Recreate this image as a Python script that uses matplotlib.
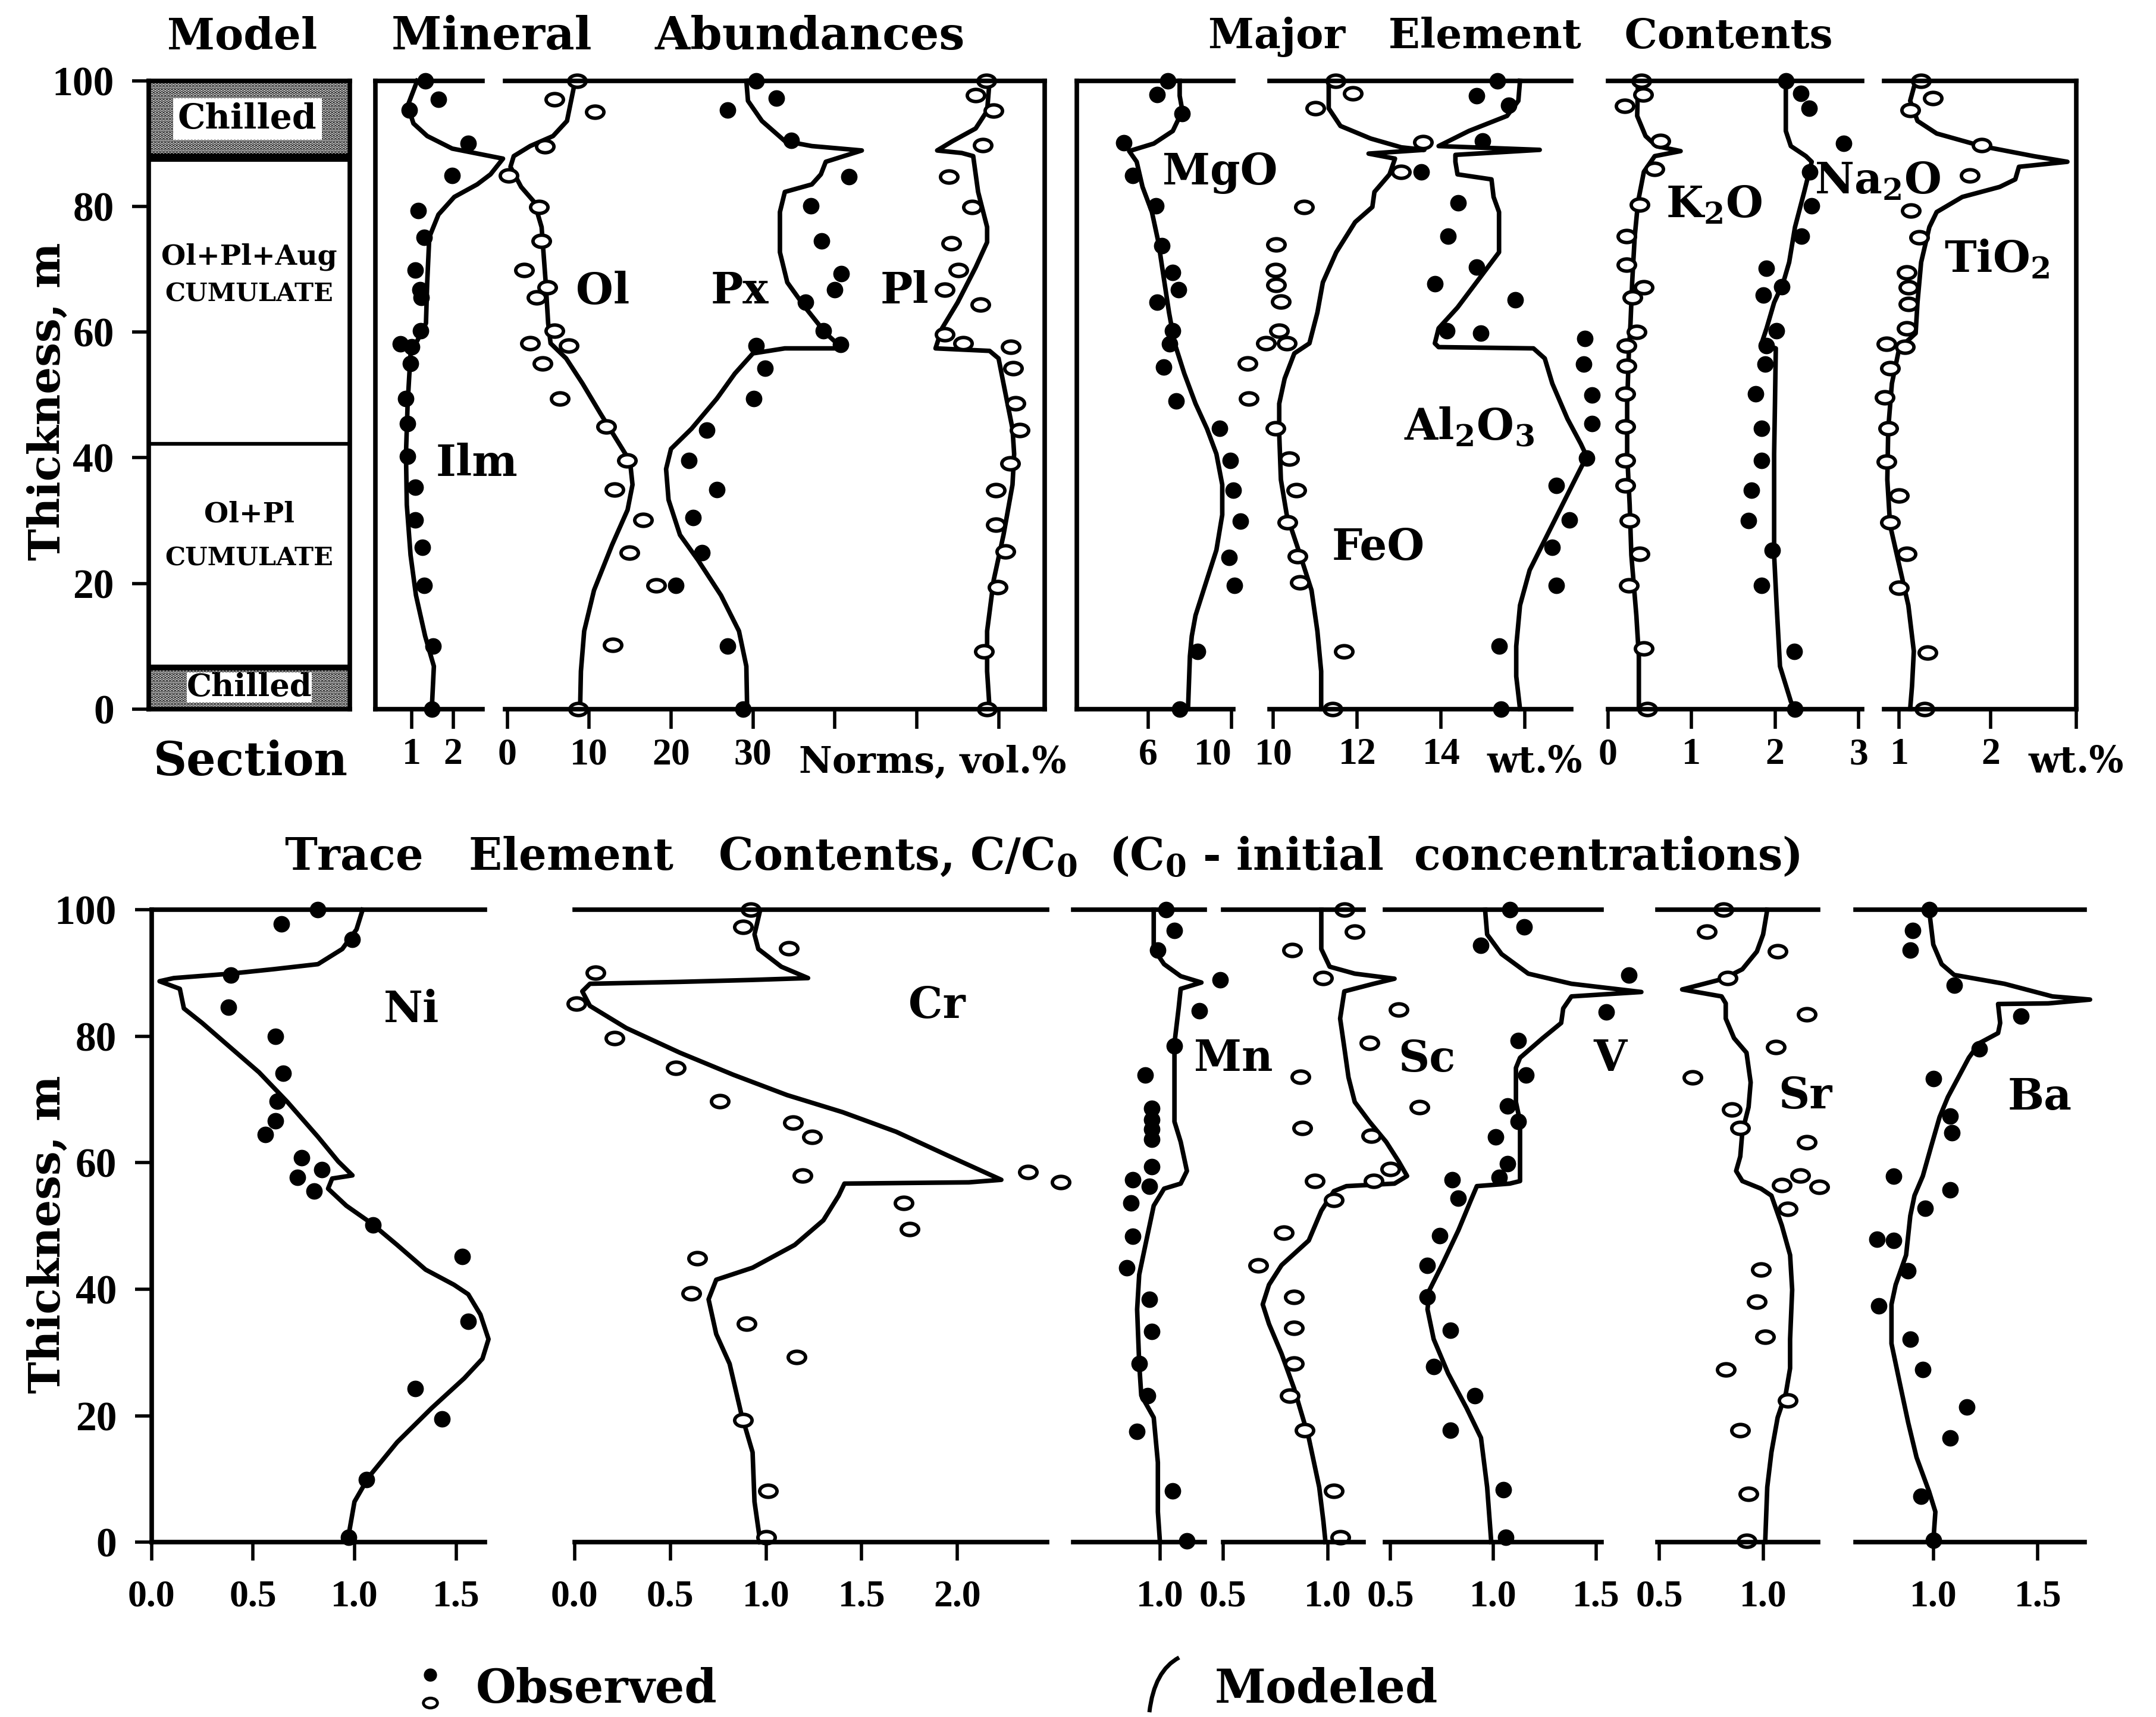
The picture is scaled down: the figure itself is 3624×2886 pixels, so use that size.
import matplotlib
matplotlib.use("Agg")
from matplotlib import pyplot as plt
from matplotlib.path import Path
from matplotlib.patches import Rectangle, PathPatch
from matplotlib.transforms import Affine2D

W, H = 3624, 2886

# ---------------- top row: mineral norms, vol.% (depth in m) ----------------
ilm_obs_d = [100, 97, 95.3, 90, 84.9, 79.3, 75.1, 69.9, 66.7, 65.5, 60.2, 58.1, 57.6, 55, 49.4, 45.4, 40.2, 35.3, 30.1, 25.7, 19.7, 10, 0]
ilm_obs_v = [1.33, 1.65, 0.95, 2.36, 1.98, 1.16, 1.30, 1.09, 1.20, 1.24, 1.22, 0.73, 1.0, 0.98, 0.87, 0.91, 0.91, 1.09, 1.09, 1.27, 1.30, 1.52, 1.49]
ilm_mod_d = [100, 96, 93.2, 91.2, 89.2, 87.6, 85.1, 83.5, 81.5, 78.7, 75.1, 67.9, 61.4, 58.2, 56.6, 48.6, 40.6, 32.5, 24.5, 18.1, 11.6, 6.8, 0]
ilm_mod_v = [1.14, 0.91, 1.05, 1.38, 1.98, 3.2, 2.9, 2.58, 2.03, 1.65, 1.43, 1.38, 1.35, 1.11, 0.98, 0.91, 0.87, 0.89, 0.98, 1.11, 1.33, 1.54, 1.49]

ol_obs_d = [100, 97, 95, 89.6, 84.9, 79.9, 74.5, 69.9, 67.1, 65.5, 60.2, 58.2, 57.8, 55, 49.4, 45, 39.6, 34.9, 30.1, 24.9, 19.7, 10.2, 0]
ol_obs_v = [8.5, 5.8, 10.7, 4.6, 0.2, 3.9, 4.2, 2.1, 4.9, 3.6, 5.8, 2.8, 7.5, 4.3, 6.4, 12.1, 14.6, 13.1, 16.6, 14.9, 18.2, 12.9, 8.7]
ol_mod_d = [100, 96.8, 93.6, 91.2, 89.6, 88, 86.3, 83.1, 80.7, 76.7, 67.9, 61.4, 58.2, 55.8, 51.8, 47, 43, 39.4, 35.7, 31.7, 26.1, 18.9, 12.4, 6, 0]
ol_mod_v = [8.3, 7.8, 7.3, 5.6, 2.8, 0.8, 0.4, 1.7, 3.3, 4.2, 4.7, 5.0, 5.3, 7.2, 9.2, 11.4, 13.3, 15.0, 15.3, 14.7, 12.8, 10.6, 9.4, 9.0, 8.9]

px_obs_d = [100, 97.2, 95.3, 90.5, 84.7, 80.1, 74.5, 69.3, 66.7, 64.7, 60.2, 58, 57.8, 54.2, 49.4, 44.4, 39.6, 34.9, 30.5, 24.9, 19.7, 10, 0]
px_obs_v = [30.4, 32.9, 26.9, 34.7, 41.7, 37.1, 38.4, 40.8, 40.0, 36.4, 38.6, 40.7, 30.4, 31.5, 30.1, 24.4, 22.2, 25.6, 22.7, 23.8, 20.6, 26.9, 28.8]
px_mod_d = [100, 96.8, 93.6, 90.4, 89.6, 88.9, 87.1, 85.1, 83.5, 82.3, 79.1, 72.7, 67.9, 63.9, 59.8, 57.8, 57.4, 57.4, 56.6, 53.4, 49.4, 44.6, 41.4, 38.2, 33.3, 27.7, 23.7, 18.1, 12.4, 6.8, 0]
px_mod_v = [29.2, 29.4, 31.1, 33.9, 37.2, 43.3, 38.9, 38.3, 37.2, 33.9, 33.3, 33.3, 34.2, 36.4, 38.9, 40.6, 40.0, 33.9, 30.0, 27.8, 25.6, 22.5, 20.0, 19.4, 19.7, 21.1, 23.3, 26.1, 28.3, 29.2, 29.3]

pl_obs_d = [100, 97.7, 95.2, 89.7, 84.7, 79.9, 74.1, 69.9, 66.7, 64.4, 59.6, 58.2, 57.6, 54.2, 48.6, 44.4, 39.1, 34.8, 29.3, 25.1, 19.4, 9.2, 0]
pl_obs_v = [58.5, 57.2, 59.4, 58.1, 53.9, 56.8, 54.2, 55.1, 53.4, 57.8, 53.4, 55.7, 61.5, 61.8, 62.1, 62.6, 61.4, 59.7, 59.7, 60.8, 59.9, 58.2, 58.6]
pl_mod_d = [100, 95.2, 92.4, 90.4, 88.9, 88.5, 88, 82.3, 76.7, 74.3, 70.3, 64.7, 60.6, 57.4, 57, 55.8, 51.8, 44.6, 40.6, 35.7, 27.7, 20.5, 12.4, 6, 0]
pl_mod_v = [58.9, 58.6, 57.2, 54.4, 52.5, 55.5, 56.9, 57.5, 58.6, 58.6, 57.2, 55.0, 53.1, 52.3, 58.9, 60.0, 60.6, 61.7, 61.9, 61.7, 60.6, 59.4, 58.6, 58.6, 58.9]

# ---------------- top row: major elements, wt.% ----------------
mgo_obs_d = [100, 97.8, 94.8, 90.1, 84.9, 80.1, 73.7, 69.5, 66.7, 64.7, 60.2, 58.1, 54.4, 49, 44.7, 39.6, 34.8, 29.9, 24.1, 19.7, 9.2, 0]
mgo_obs_v = [6.95, 6.42, 7.64, 4.82, 5.27, 6.36, 6.67, 7.18, 7.45, 6.42, 7.18, 7.04, 6.73, 7.33, 9.42, 9.95, 10.09, 10.42, 9.87, 10.13, 8.36, 7.51]
mgo_mod_d = [100, 97.6, 95.2, 92, 90, 88.8, 87.1, 83.1, 79.1, 74.3, 67.9, 63.1, 58.2, 53.4, 48.6, 44.6, 40.6, 35.7, 30.9, 25.3, 19.7, 14.9, 11.6, 8.4, 0]
mgo_mod_v = [7.51, 7.51, 7.64, 7.18, 6.27, 5.09, 5.45, 5.73, 6.18, 6.49, 6.78, 7.0, 7.27, 7.73, 8.27, 8.82, 9.27, 9.55, 9.55, 9.27, 8.73, 8.27, 8.09, 8.0, 7.91]

feo_obs_d = [100, 98, 95.6, 90.2, 85.5, 79.9, 73.9, 69.9, 67.5, 64.8, 60.2, 58.2, 58.2, 55, 49.4, 44.7, 39.8, 34.8, 29.7, 24.3, 20.1, 9.2, 0]
feo_obs_v = [11.48, 11.9, 11.0, 13.57, 13.05, 10.73, 10.06, 10.05, 10.06, 10.18, 10.14, 9.82, 10.32, 9.38, 9.41, 10.05, 10.38, 10.55, 10.34, 10.57, 10.64, 11.68, 11.41]
feo_mod_d = [100, 95.6, 92.8, 90.8, 89.4, 89.0, 88.4, 87.6, 85.1, 82.3, 79.9, 77.5, 72.7, 67.9, 63.1, 58.2, 56.6, 52.6, 48.6, 43.8, 36.5, 30.9, 24.5, 18.9, 12.4, 6, 0]
feo_mod_v = [11.32, 11.32, 11.6, 12.32, 13.05, 13.6, 12.27, 12.9, 12.77, 12.41, 12.36, 11.95, 11.5, 11.18, 11.05, 10.86, 10.5, 10.27, 10.14, 10.14, 10.18, 10.32, 10.64, 10.91, 11.05, 11.14, 11.14]

al_obs_d = [100, 97.6, 96.1, 90.4, 85.5, 80.6, 75.3, 70.3, 67.7, 65.1, 60.2, 59.8, 59, 54.9, 50, 45.4, 39.9, 35.6, 30.1, 25.7, 19.7, 10, 0]
al_obs_v = [15.34, 14.84, 15.61, 14.98, 13.53, 14.41, 14.16, 14.84, 13.85, 15.77, 14.14, 14.95, 17.42, 17.4, 17.6, 17.6, 17.47, 16.74, 17.06, 16.65, 16.74, 15.38, 15.43]
al_mod_d = [100, 96.8, 94.4, 92, 89.6, 89.0, 88.2, 87.1, 85.1, 84.3, 81.5, 79.1, 72.7, 68.7, 63.9, 60.6, 58.2, 57.6, 57.4, 55.8, 51.8, 46.2, 42.2, 40.2, 36.5, 31.7, 26.9, 22.1, 16.5, 10, 5.2, 0]
al_mod_v = [15.88, 15.84, 15.57, 14.66, 13.94, 16.35, 14.34, 14.34, 14.39, 15.2, 15.25, 15.38, 15.38, 14.93, 14.39, 13.94, 13.85, 13.94, 16.2, 16.47, 16.65, 17.01, 17.33, 17.47, 17.19, 16.83, 16.47, 16.11, 15.88, 15.79, 15.79, 15.88]

k2o_obs_d = [100, 97.8, 96, 90.4, 86, 80.3, 75.3, 70.7, 67.1, 65.5, 60, 57.8, 54.6, 50.2, 45, 39.6, 35.6, 30, 24.7, 19.7, 9.6, 0]
k2o_obs_v = [0.40, 0.42, 0.2, 0.63, 0.56, 0.38, 0.22, 0.22, 0.43, 0.29, 0.34, 0.22, 0.22, 0.21, 0.21, 0.21, 0.21, 0.26, 0.38, 0.25, 0.43, 0.47]
k2o_mod_d = [100, 94.4, 91.2, 89.6, 88.8, 88, 85.5, 80.7, 75.1, 67.9, 61.4, 56.6, 48.6, 40.6, 32.5, 24.5, 14.9, 8.4, 0]
k2o_mod_v = [0.36, 0.35, 0.45, 0.58, 0.87, 0.56, 0.43, 0.36, 0.32, 0.29, 0.27, 0.25, 0.23, 0.23, 0.26, 0.28, 0.34, 0.37, 0.37]

na2o_obs_d = [100, 98, 95.6, 90, 85.5, 80.1, 75.3, 70.1, 67.2, 65.9, 60.2, 57.8, 54.9, 50.2, 44.7, 39.6, 34.8, 30, 25.3, 19.7, 9.2, 0]
na2o_obs_v = [2.13, 2.31, 2.41, 2.82, 2.42, 2.44, 2.32, 1.9, 2.08, 1.86, 2.02, 1.9, 1.88, 1.77, 1.84, 1.84, 1.72, 1.68, 1.97, 1.84, 2.23, 2.24]
na2o_mod_d = [100, 92, 89.6, 88, 87.1, 82.3, 76.7, 71.1, 67.9, 64.7, 60.6, 58.2, 57.4, 48.6, 40.6, 32.5, 24.5, 16.5, 6.8, 1.2, 0]
na2o_mod_v = [2.13, 2.13, 2.19, 2.37, 2.44, 2.35, 2.24, 2.17, 2.1, 1.99, 1.9, 1.84, 2.01, 2.0, 1.99, 1.99, 1.99, 2.02, 2.06, 2.19, 2.24]

tio2_obs_d = [100, 97.2, 95.3, 89.7, 84.9, 79.3, 75.1, 69.5, 67.1, 64.5, 60.6, 58.1, 57.6, 54.2, 49.6, 44.7, 39.4, 34, 29.7, 24.7, 19.3, 9, 0]
tio2_obs_v = [1.24, 1.37, 1.12, 1.9, 1.77, 1.13, 1.22, 1.08, 1.1, 1.1, 1.08, 0.86, 1.06, 0.9, 0.84, 0.88, 0.86, 1.0, 0.9, 1.08, 1.0, 1.31, 1.28]
tio2_mod_d = [100, 96.8, 93.6, 91.6, 89.6, 88, 87.1, 86.3, 84.3, 83.1, 81.5, 79.1, 76.7, 71.1, 64.7, 59.8, 57.4, 51.8, 44.6, 36.5, 29.3, 22.9, 16.5, 9.2, 3.6, 0]
tio2_mod_v = [1.18, 1.12, 1.2, 1.41, 1.9, 2.47, 2.84, 2.31, 2.27, 2.1, 1.69, 1.41, 1.33, 1.24, 1.2, 1.18, 1.0, 0.92, 0.88, 0.87, 0.9, 1.0, 1.1, 1.16, 1.14, 1.12]

# ---------------- bottom row: trace elements, C/C0 ----------------
ni_obs_d = [100, 97.8, 95.3, 89.7, 84.6, 80, 74.1, 69.7, 66.6, 64.5, 60.8, 58.9, 57.7, 55.5, 50.2, 45.2, 34.9, 24.3, 19.5, 9.9, 0.8]
ni_obs_v = [0.82, 0.64, 0.99, 0.39, 0.38, 0.61, 0.65, 0.62, 0.61, 0.56, 0.74, 0.84, 0.72, 0.80, 1.09, 1.53, 1.56, 1.30, 1.43, 1.06, 0.97]
ni_mod_d = [100, 96.9, 93.8, 91.4, 90.6, 89.9, 89.2, 88.7, 87.5, 84.4, 82.1, 78.2, 74.3, 69.6, 64.1, 60.2, 58, 57.5, 55.9, 53.2, 50.5, 47, 43.1, 40.7, 39.2, 36, 32.1, 29, 25.9, 21.2, 15.8, 10.3, 6.4, 0.9, 0]
ni_mod_v = [1.04, 1.01, 0.94, 0.82, 0.60, 0.39, 0.11, 0.04, 0.14, 0.16, 0.25, 0.39, 0.53, 0.67, 0.82, 0.92, 0.99, 0.89, 0.87, 0.96, 1.08, 1.21, 1.35, 1.49, 1.56, 1.62, 1.66, 1.63, 1.54, 1.38, 1.21, 1.07, 1.0, 0.97, 0.97]

cr_obs_d = [100, 97.3, 93.9, 90, 85.2, 79.7, 75, 69.7, 66.3, 64.1, 58, 58.5, 56.9, 53.6, 49.5, 44.9, 39.3, 34.5, 29.3, 19.3, 8.1, 0.8]
cr_obs_v = [0.92, 0.88, 1.12, 0.11, 0.01, 0.21, 0.53, 0.76, 1.14, 1.24, 1.19, 2.37, 2.54, 1.72, 1.75, 0.64, 0.61, 0.90, 1.16, 0.88, 1.01, 1.0]
cr_mod_d = [100, 96.1, 93.8, 91, 89.2, 88.9, 88.6, 88.3, 87.1, 84.8, 81.3, 77.4, 73.9, 70.7, 68, 64.9, 61, 57.3, 56.9, 56.7, 54.8, 50.9, 47, 43.4, 41.5, 38.4, 32.9, 28.2, 20.4, 14.2, 6.4, 0]
cr_mod_v = [0.97, 0.94, 0.96, 1.08, 1.22, 0.92, 0.55, 0.08, 0.04, 0.08, 0.27, 0.55, 0.83, 1.11, 1.40, 1.68, 1.96, 2.23, 2.06, 1.41, 1.38, 1.30, 1.15, 0.93, 0.74, 0.70, 0.74, 0.81, 0.87, 0.93, 0.94, 0.97]

mn_obs_d = [100, 96.7, 93.6, 88.9, 84, 78.5, 73.9, 68.6, 66.8, 65.3, 63.7, 59.4, 57.3, 56.3, 53.6, 48.4, 43.4, 38.4, 33.3, 28.2, 23.2, 17.5, 8.1, 0.2]
mn_obs_v = [1.03, 1.07, 0.99, 1.29, 1.19, 1.07, 0.93, 0.96, 0.96, 0.96, 0.96, 0.96, 0.87, 0.95, 0.86, 0.87, 0.84, 0.95, 0.96, 0.90, 0.94, 0.89, 1.06, 1.13]
mn_mod_d = [100, 93.8, 91.4, 89.5, 88.5, 87.5, 84.4, 78.9, 73.5, 66.5, 63.3, 58.7, 56.7, 55.9, 53.2, 47, 42.3, 36.8, 28.2, 23.2, 19.7, 12.6, 4.8, 0]
mn_mod_v = [0.97, 0.97, 1.02, 1.10, 1.20, 1.10, 1.09, 1.07, 1.07, 1.07, 1.10, 1.13, 1.10, 1.02, 0.97, 0.93, 0.90, 0.89, 0.90, 0.91, 0.97, 0.99, 0.99, 1.0]

sc_obs_d = [100, 96.5, 93.6, 89.2, 84.2, 78.9, 73.6, 68.8, 65.5, 64.3, 59, 57.1, 57.1, 54.1, 48.9, 43.8, 38.8, 33.9, 28.2, 23.2, 17.7, 8.1, 0.8]
sc_obs_v = [1.08, 1.13, 0.83, 0.98, 1.34, 1.20, 0.87, 1.44, 0.88, 1.21, 1.30, 1.22, 0.94, 1.03, 0.79, 0.67, 0.84, 0.84, 0.84, 0.82, 0.89, 1.03, 1.06]
sc_mod_d = [100, 93.8, 91, 89.9, 89.1, 88.3, 87.1, 82.8, 78.2, 73.5, 69.6, 66.5, 63.3, 60.2, 57.9, 56.7, 56.3, 55.5, 52.4, 47.7, 43.8, 40.7, 37.6, 34.5, 29.8, 24.3, 16.5, 8.7, 3.3, 0]
sc_mod_v = [0.97, 0.97, 1.01, 1.13, 1.32, 1.22, 1.08, 1.06, 1.08, 1.10, 1.13, 1.20, 1.28, 1.34, 1.38, 1.32, 1.09, 1.03, 0.97, 0.91, 0.78, 0.72, 0.69, 0.72, 0.78, 0.84, 0.91, 0.96, 0.98, 0.99]

v_obs_d = [100, 97.3, 94.4, 89.7, 83.8, 79.3, 73.9, 69, 66.5, 64.1, 59.8, 57.7, 57.3, 54.4, 48.5, 43.8, 38.8, 33.5, 27.8, 23.2, 17.7, 8.3, 0.8]
v_obs_v = [1.08, 1.15, 0.94, 1.66, 1.55, 1.12, 1.16, 1.07, 1.12, 1.01, 1.07, 1.03, 0.80, 0.83, 0.74, 0.68, 0.68, 0.79, 0.71, 0.91, 0.79, 1.05, 1.06]
v_mod_d = [100, 96.1, 93, 89.9, 88.3, 87, 86.3, 84.4, 82.1, 79.7, 76.6, 75, 69.6, 66.5, 57.1, 56.7, 56.3, 54, 49.3, 43.8, 39.9, 36.8, 32.1, 26.7, 21.2, 16.5, 8.7, 0]
v_mod_v = [0.96, 0.97, 1.04, 1.17, 1.38, 1.72, 1.38, 1.34, 1.33, 1.24, 1.13, 1.11, 1.11, 1.13, 1.13, 1.08, 0.92, 0.89, 0.83, 0.75, 0.69, 0.68, 0.71, 0.78, 0.87, 0.94, 0.97, 0.99]

sr_obs_d = [100, 96.5, 93.4, 89.2, 83.5, 78.3, 73.5, 68.4, 65.5, 63.2, 58, 56.5, 56.2, 52.7, 43.1, 38, 32.5, 27.3, 22.4, 17.7, 7.6, 0.2]
sr_obs_v = [0.81, 0.73, 1.07, 0.83, 1.21, 1.06, 0.66, 0.85, 0.89, 1.21, 1.18, 1.09, 1.27, 1.12, 0.99, 0.97, 1.01, 0.82, 1.12, 0.89, 0.93, 0.92]
sr_mod_d = [100, 96.1, 93.4, 90.6, 89.1, 87.4, 86.3, 85.2, 82.8, 79.7, 77.4, 72.7, 68.8, 64.9, 61, 58.7, 57.1, 55.9, 54.8, 50.1, 45.4, 39.9, 32.1, 27.5, 23.6, 19.7, 14.2, 8.7, 0]
sr_mod_v = [1.02, 1.0, 0.97, 0.90, 0.81, 0.61, 0.80, 0.82, 0.82, 0.86, 0.92, 0.94, 0.93, 0.90, 0.89, 0.87, 0.90, 0.99, 1.04, 1.09, 1.13, 1.14, 1.13, 1.13, 1.11, 1.07, 1.04, 1.02, 1.01]

ba_obs_d = [100, 96.7, 93.6, 88.1, 83.2, 78, 73.3, 67.4, 64.7, 57.9, 55.7, 52.8, 47.9, 47.7, 42.9, 37.4, 32.1, 27.3, 21.4, 16.5, 7.3, 0.3]
ba_obs_v = [0.98, 0.90, 0.89, 1.10, 1.42, 1.22, 1.0, 1.08, 1.09, 0.81, 1.08, 0.96, 0.73, 0.81, 0.88, 0.74, 0.89, 0.95, 1.16, 1.08, 0.94, 1.0]
ba_mod_d = [100, 94.5, 91.4, 89.7, 88.3, 86.3, 85.8, 85.2, 85.1, 82.1, 80.5, 78.9, 76.6, 73.5, 70.4, 67.2, 62.6, 57.9, 54.8, 51.6, 45.4, 40.7, 37.6, 31.4, 25.1, 18.9, 13.4, 8, 4.8, 0]
ba_mod_v = [0.98, 1.0, 1.04, 1.10, 1.34, 1.57, 1.75, 1.55, 1.31, 1.32, 1.31, 1.22, 1.17, 1.12, 1.07, 1.03, 0.99, 0.95, 0.91, 0.89, 0.87, 0.82, 0.80, 0.80, 0.84, 0.88, 0.92, 0.98, 1.01, 1.0]

depth_ticks = [0, 20, 40, 60, 80, 100]

# model section: layer boundaries (m)
chilled_top = (87.8, 100)
chilled_bot = (0, 6.6)
cumulate_split = 42.2

plt.rcParams["font.family"] = ["DejaVu Serif"]
plt.rcParams["font.weight"] = "bold"
plt.rcParams["mathtext.fontset"] = "custom"
plt.rcParams["mathtext.rm"] = "DejaVu Serif:bold"
plt.rcParams["mathtext.it"] = "DejaVu Serif:bold"
plt.rcParams["mathtext.bf"] = "DejaVu Serif:bold"
plt.rcParams["mathtext.default"] = "rm"
plt.rcParams["hatch.linewidth"] = 3.0
plt.rcParams["hatch.color"] = "black"

NUM = "Liberation Serif"
LW = 5.5
OPEN = Path.unit_circle().transformed(Affine2D().scale(1.0, 0.7))

TOP = (135.7, 1191.7)   # pixel rows of 100 m and 0 m
BOT = (1529.2, 2592.1)

fig = plt.figure(figsize=(W / 100, H / 100), dpi=100)
fig.patch.set_facecolor("white")

# overlay in pixel units for the free text
ov = fig.add_axes([0, 0, 1, 1])
ov.set_xlim(0, W)
ov.set_ylim(H, 0)
ov.axis("off")


def segment(x0, x1, row, xlim, ticks, labels, left=False, right=False,
            size=46, tick_len=24, pad=11):
    y100, y0 = row
    ax = fig.add_axes([x0 / W, 1 - y0 / H, (x1 - x0) / W, (y0 - y100) / H])
    ax.patch.set_visible(False)
    ax.set_xlim(*xlim)
    ax.set_ylim(0, 100)
    ax.spines["left"].set_visible(left)
    ax.spines["right"].set_visible(right)
    for s in ax.spines.values():
        s.set_linewidth(LW)
    ax.set_yticks([])
    ax.set_xticks(ticks, labels, fontsize=size, fontfamily=NUM, fontweight="bold")
    ax.tick_params(axis="x", direction="out", length=tick_len, width=4, pad=pad)
    return ax


def depth_axis(ax):
    ax.set_yticks(depth_ticks, [str(t) for t in depth_ticks],
                  fontsize=50, fontfamily=NUM, fontweight="bold")
    ax.tick_params(axis="y", direction="out", length=20, width=4, pad=22)


def draw(ax, obs_v, obs_d, mod_v, mod_d, filled):
    ax.plot(mod_v, mod_d, color="k", lw=LW, clip_on=False)
    if filled:
        ax.plot(obs_v, obs_d, ls="none", marker="o", ms=19, color="k", clip_on=False)
    else:
        ax.plot(obs_v, obs_d, ls="none", marker=OPEN, ms=21, mfc="white",
                mec="k", mew=4.2, clip_on=False)


# ---- model column ----
axm = fig.add_axes([250 / W, 1 - TOP[1] / H, (588 - 250) / W, (TOP[1] - TOP[0]) / H])
axm.set_xlim(0, 1)
axm.set_ylim(0, 100)
axm.set_xticks([])
for s in axm.spines.values():
    s.set_linewidth(LW)
depth_axis(axm)
for (lo, hi), box, fs in [(chilled_top, (0.12, 0.86, 90.6, 97.2), 42),
                          (chilled_bot, (0.19, 0.81, 1.0, 5.8), 38)]:
    axm.add_patch(Rectangle((0, lo), 1, hi - lo, fc="white", ec="k", lw=0, hatch="..."))
    axm.add_patch(Rectangle((box[0], box[2]), box[1] - box[0], box[3] - box[2],
                            fc="white", ec="none"))
    axm.text((box[0] + box[1]) / 2, (box[2] + box[3]) / 2, "Chilled", fontsize=fs,
             ha="center", va="center")
axm.axhline(chilled_top[0], color="k", lw=10)
axm.axhline(cumulate_split, color="k", lw=4.5)
axm.axhline(chilled_bot[1], color="k", lw=7)
axm.text(0.5, 72, "Ol+Pl+Aug", fontsize=34, ha="center", va="center")
axm.text(0.5, 66, "CUMULATE", fontsize=31, ha="center", va="center")
axm.text(0.5, 31, "Ol+Pl", fontsize=34, ha="center", va="center")
axm.text(0.5, 24, "CUMULATE", fontsize=31, ha="center", va="center")

# ---- mineral abundances ----
a = segment(630.6, 810.5, TOP, (0.13, 2.70), [1, 2], ["1", "2"], left=True)
draw(a, ilm_obs_v, ilm_obs_d, ilm_mod_v, ilm_mod_d, True)
a = segment(848.7, 1755.6, TOP, (-0.28, 65.6), [0, 10, 20, 30, 40, 50, 60],
            ["0", "10", "20", "30", "", "", ""], right=True)
draw(a, ol_obs_v, ol_obs_d, ol_mod_v, ol_mod_d, False)
draw(a, px_obs_v, px_obs_d, px_mod_v, px_mod_d, True)
draw(a, pl_obs_v, pl_obs_d, pl_mod_v, pl_mod_d, False)

# ---- major elements ----
a = segment(1810, 2073.4, TOP, (2.58, 10.09), [6, 10], ["6", "10"], left=True)
a.get_xticklabels()[-1].set_horizontalalignment("right")
draw(a, mgo_obs_v, mgo_obs_d, mgo_mod_v, mgo_mod_d, True)
a = segment(2134, 2641, TOP, (9.91, 17.1), [10, 12, 14, 16], ["10", "12", "14", ""])
draw(a, feo_obs_v, feo_obs_d, feo_mod_v, feo_mod_d, False)
draw(a, al_obs_v, al_obs_d, al_mod_v, al_mod_d, True)
a = segment(2702.8, 3129.5, TOP, (0, 3.04), [0, 1, 2, 3], ["0", "1", "2", "3"])
draw(a, k2o_obs_v, k2o_obs_d, k2o_mod_v, k2o_mod_d, False)
draw(a, na2o_obs_v, na2o_obs_d, na2o_mod_v, na2o_mod_d, True)
a = segment(3167, 3490.4, TOP, (0.835, 2.94), [1, 2, 2.94], ["1", "2", ""], right=True)
draw(a, tio2_obs_v, tio2_obs_d, tio2_mod_v, tio2_mod_d, False)

# ---- trace elements ----
bkw = dict(size=46, tick_len=22, pad=24)
a = segment(254.5, 815, BOT, (0, 1.642), [0, 0.5, 1, 1.5], ["0.0", "0.5", "1.0", "1.5"],
            left=True, **bkw)
depth_axis(a)
draw(a, ni_obs_v, ni_obs_d, ni_mod_v, ni_mod_d, True)
a = segment(965.9, 1760, BOT, (0, 2.469), [0, 0.5, 1, 1.5, 2],
            ["0.0", "0.5", "1.0", "1.5", "2.0"], **bkw)
draw(a, cr_obs_v, cr_obs_d, cr_mod_v, cr_mod_d, False)
a = segment(1804, 2025.4, BOT, (0.582, 1.217), [1.0], ["1.0"], **bkw)
draw(a, mn_obs_v, mn_obs_d, mn_mod_v, mn_mod_d, True)
a = segment(2055.7, 2292, BOT, (0.5, 1.172), [0.5, 1.0], ["0.5", "1.0"], **bkw)
draw(a, sc_obs_v, sc_obs_d, sc_mod_v, sc_mod_d, False)
a = segment(2328.3, 2691.9, BOT, (0.474, 1.526), [0.5, 1.0, 1.5], ["0.5", "1.0", "1.5"], **bkw)
draw(a, v_obs_v, v_obs_d, v_mod_v, v_mod_d, True)
a = segment(2786, 3055.7, BOT, (0.491, 1.264), [0.5, 1.0], ["0.5", "1.0"], **bkw)
draw(a, sr_obs_v, sr_obs_d, sr_mod_v, sr_mod_d, False)
a = segment(3119.3, 3504, BOT, (0.629, 1.724), [1.0, 1.5], ["1.0", "1.5"], **bkw)
draw(a, ba_obs_v, ba_obs_d, ba_mod_v, ba_mod_d, True)

# ---- text ----
ov.text(407, 62, "Model", fontsize=52, ha="center", va="center")
ov.text(1140, 62, "Mineral    Abundances", fontsize=55, ha="center", va="center")
ov.text(2556, 62, "Major   Element   Contents", fontsize=50, ha="center", va="center")
ov.text(1752, 1442, "Trace   Element   Contents, C/C$_0$  (C$_0$ - initial  concentrations)",
        fontsize=53, ha="center", va="center")
ov.text(421, 1281, "Section", fontsize=56, ha="center", va="center")
ov.text(1568, 1281, "Norms, vol.%", fontsize=44, ha="center", va="center")
ov.text(2580, 1281, "wt.%", fontsize=44, ha="center", va="center")
ov.text(3490, 1281, "wt.%", fontsize=44, ha="center", va="center")
for yc in (675, 2075):
    ov.text(80, yc, "Thickness, m", fontsize=52, rotation=90, ha="center", va="center")

labels = [("Ilm", 801, 780), ("Ol", 1013, 490), ("Px", 1243, 490), ("Pl", 1520, 490),
          ("MgO", 2051, 290), ("FeO", 2317, 920), ("Al$_2$O$_3$", 2470, 718),
          ("K$_2$O", 2881, 345), ("Na$_2$O", 3156, 305), ("TiO$_2$", 3357, 437),
          ("Ni", 692, 1697), ("Cr", 1575, 1691), ("Mn", 2073, 1780), ("Sc", 2398, 1780),
          ("V", 2706, 1780), ("Sr", 3034, 1842), ("Ba", 3429, 1845)]
for s, x, y in labels:
    ov.text(x, y, s, fontsize=52, ha="center", va="center")

# legend
ov.plot([723], [2815], ls="none", marker="o", ms=15, color="k")
ov.plot([723], [2862], ls="none", marker=OPEN, ms=17, mfc="white", mec="k", mew=3.5)
ov.text(800, 2840, "Observed", fontsize=56, ha="left", va="center")
ov.add_patch(PathPatch(Path([(1932, 2878), (1940, 2808), (1982, 2786)],
                            [Path.MOVETO, Path.CURVE3, Path.CURVE3]),
                       fill=False, lw=5, ec="k"))
ov.text(2042, 2840, "Modeled", fontsize=56, ha="left", va="center")

fig.savefig("out.png", dpi=100, facecolor="white")
